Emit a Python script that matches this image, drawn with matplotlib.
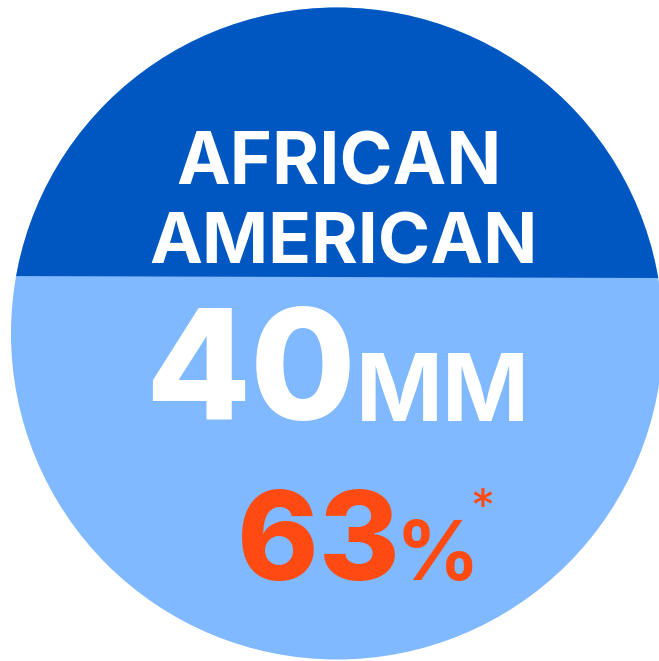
import matplotlib
matplotlib.use("Agg")
import matplotlib.pyplot as plt
from matplotlib.patches import Circle, Polygon
from matplotlib.font_manager import FontProperties
from matplotlib.textpath import TextPath

# content
title_lines = ["AFRICAN", "AMERICAN"]
population = "40"
population_unit = "MM"
share = "63"
share_unit = "%"
footnote_mark = "*"

DARK = "#0057c1"
LIGHT = "#80b9ff"
ORANGE = "#ff4b12"
FONT = "Inter"

W, H = 659, 661
PX = 100 / 72  # pixels per point
fig = plt.figure(figsize=(W / 100, H / 100), dpi=100)
ax = fig.add_axes([0, 0, 1, 1])
ax.set_xlim(0, W)
ax.set_ylim(H, 0)
ax.axis("off")

cx, cy, r = 337, 333.5, 326
ax.add_patch(Circle((cx, cy), r, color=LIGHT, lw=0))
top = Polygon([(0, 0), (W, 0), (W, 278), (0, 276)], closed=True, color=DARK, lw=0)
ax.add_patch(top)
top.set_clip_path(Circle((cx, cy), r, transform=ax.transData))


def fit_text(s, x0, x1, y_top, y_bot, color, weight="bold"):
    # size the text so its ink box lands on x0..x1, y_top..y_bot (pixels)
    fp = FontProperties(family=FONT, weight=weight)
    ext = TextPath((0, 0), s, size=100, prop=fp).get_extents()
    kw = (x1 - x0) / (ext.width * PX / 100)
    kh = (y_bot - y_top) / (ext.height * PX / 100)
    size = (kw + kh) / 2
    k = size * PX / 100
    left = x0 + (x1 - x0 - ext.width * k) / 2 - ext.x0 * k
    base = y_bot + ext.y0 * k + ((y_bot - y_top) - ext.height * k) / 2 * -1
    ax.text(left, base, s, color=color, fontsize=size, fontproperties=fp,
            ha="left", va="baseline")


fit_text(title_lines[0], 173, 502, 132, 184, "white")
fit_text(title_lines[1], 147, 537, 212, 264, "white")
fit_text(population, 152, 350, 307, 421, "white", weight="heavy")
fit_text(population_unit, 362, 524, 353, 421, "white")
fit_text(share, 243, 393, 488, 582, ORANGE, weight="heavy")
fit_text(share_unit, 402, 472, 520, 581, ORANGE)
fit_text(footnote_mark, 473, 492, 488, 507, ORANGE, weight="normal")

fig.savefig("out.png", dpi=100)
